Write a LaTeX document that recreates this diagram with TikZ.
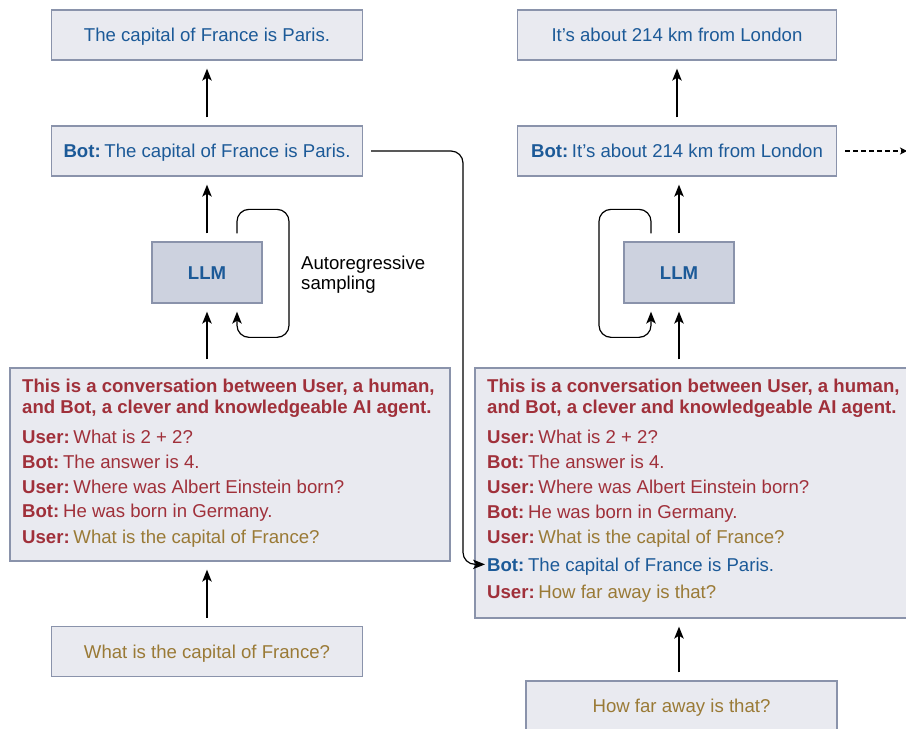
\documentclass[tikz,border=0pt]{standalone}
\usepackage{fontspec}
\setmainfont{Liberation Sans}
\usepackage{tikz}
\usetikzlibrary{arrows.meta,positioning,calc}
\definecolor{boxfill}{HTML}{E9EAF0}
\definecolor{boxline}{HTML}{8A93AB}
\definecolor{llmfill}{HTML}{CDD2DF}
\definecolor{botblue}{HTML}{1C5A98}
\definecolor{sysred}{HTML}{A0303A}
\definecolor{usrgold}{HTML}{9A7A36}
\begin{document}
\begin{tikzpicture}[
  x=1pt,y=-1pt,
  font=\fontsize{18.6}{22}\selectfont,
  box/.style={rectangle,draw=boxline,line width=1.3pt,fill=boxfill,inner sep=0pt,minimum width=311pt,minimum height=50pt,text height=13.3pt,text depth=0pt},
  llmbox/.style={box,fill=llmfill,minimum width=110pt,minimum height=61pt,font=\fontsize{18.6}{22}\selectfont\bfseries,text=botblue},
  txt/.style={anchor=base west,inner sep=0pt,text height=13.3pt,text depth=0pt},
  flow/.style={->,line width=1.2pt,shorten <=8pt,shorten >=8pt},
  >={Stealth[length=12pt,width=9.5pt,inset=3pt]}
]
\useasboundingbox (0,0) rectangle (906,729);
\clip (0,0) rectangle (906,729);
% left column
\node[box,text=botblue] (top1) at (207,35) {The capital of France is Paris.};
\node[box,text=botblue] (bot1) at (207,151) {\textbf{Bot:}\hspace{0.2em}The capital of France is Paris.};
\node[llmbox] (llm1) at (207,272.5) {LLM};
\node[align=left,anchor=west,inner sep=0pt,font=\fontsize{18.6}{20}\selectfont] (autoreg) at (301,275) {Autoregressive\\sampling};
\node[box,minimum width=440pt,minimum height=193pt] (prompt1) at (230,464.5) {};
\node[txt,text=sysred,font=\fontsize{18.6}{22}\selectfont\bfseries] (l1) at (22,392) {This is a conversation between User, a human,};
\node[txt,text=sysred,font=\fontsize{18.6}{22}\selectfont\bfseries] (l2) at (22,413) {and Bot, a clever and knowledgeable AI agent.};
\node[txt,text=sysred] (l3) at (22,443) {\textbf{User:}\hspace{0.2em}What is 2 + 2?};
\node[txt,text=sysred] (l4) at (22,468) {\textbf{Bot:}\hspace{0.2em}The answer is 4.};
\node[txt,text=sysred] (l5) at (22,493) {\textbf{User:}\hspace{0.2em}Where was Albert Einstein born?};
\node[txt,text=sysred] (l6) at (22,517) {\textbf{Bot:}\hspace{0.2em}He was born in Germany.};
\node[txt,text=sysred] (l7) at (22,543) {\textbf{User:}\hspace{0.2em}\textcolor{usrgold}{What is the capital of France?}};
\node[box,text=usrgold] (input1) at (207,651.5) {What is the capital of France?};
% right column
\node[box,text=botblue,minimum width=319pt] (top2) at (677,35) {It’s about 214 km from London};
\node[box,text=botblue,minimum width=319pt] (bot2) at (677,151) {\textbf{Bot:}\hspace{0.2em}It’s about 214 km from London};
\coordinate (next) at (907,151);
\node[llmbox] (llm2) at (679,272.5) {LLM};
\node[box,minimum width=435pt,minimum height=250pt] (prompt2) at (692.5,493) {};
\node[txt,text=sysred,font=\fontsize{18.6}{22}\selectfont\bfseries] (r1) at (487,392) {This is a conversation between User, a human,};
\node[txt,text=sysred,font=\fontsize{18.6}{22}\selectfont\bfseries] (r2) at (487,413) {and Bot, a clever and knowledgeable AI agent.};
\node[txt,text=sysred] (r3) at (487,443) {\textbf{User:}\hspace{0.2em}What is 2 + 2?};
\node[txt,text=sysred] (r4) at (487,468) {\textbf{Bot:}\hspace{0.2em}The answer is 4.};
\node[txt,text=sysred] (r5) at (487,493) {\textbf{User:}\hspace{0.2em}Where was Albert Einstein born?};
\node[txt,text=sysred] (r6) at (487,518) {\textbf{Bot:}\hspace{0.2em}He was born in Germany.};
\node[txt,text=sysred] (r7) at (487,543) {\textbf{User:}\hspace{0.2em}\textcolor{usrgold}{What is the capital of France?}};
\node[txt,text=botblue] (r8) at (487,571) {\textbf{Bot:}\hspace{0.2em}The capital of France is Paris.};
\node[txt,text=sysred] (r9) at (487,598) {\textbf{User:}\hspace{0.2em}\textcolor{usrgold}{How far away is that?}};
\node[box,text=usrgold] (input2) at (681.5,706) {How far away is that?};
% connectors
\draw[flow] (bot1) -- (top1);
\draw[flow] (llm1) -- (bot1);
\draw[flow] (prompt1.north -| llm1.south) -- (llm1.south);
\draw[flow] (input1.north) -- (input1.north |- prompt1.south);
\draw[flow,rounded corners=12pt] ([xshift=30pt]llm1.north) -- ++(0,-32) -- ++(52,0) -- ++(0,128) -- ++(-52,0) -- ([xshift=30pt]llm1.south);
\draw[flow,rounded corners=12pt,shorten >=2pt] (bot1.east) -| ([xshift=-24pt]r8.west) -- (r8.west);
\draw[flow] (bot2) -- (top2);
\draw[flow] (llm2) -- (llm2 |- bot2.south);
\draw[flow] (prompt2.north -| llm2.south) -- (llm2.south);
\draw[flow] (input2.north -| llm2.south) -- (llm2.south |- prompt2.south);
\draw[flow,rounded corners=12pt] ([xshift=-28pt]llm2.north) -- ++(0,-32) -- ++(-52,0) -- ++(0,128) -- ++(52,0) -- ([xshift=-28pt]llm2.south);
\draw[flow,dash pattern=on 5pt off 3pt,shorten >=0pt,>={Stealth[length=7pt,width=7pt,inset=2pt]}] (bot2.east) -- (next);
\end{tikzpicture}
\end{document}
